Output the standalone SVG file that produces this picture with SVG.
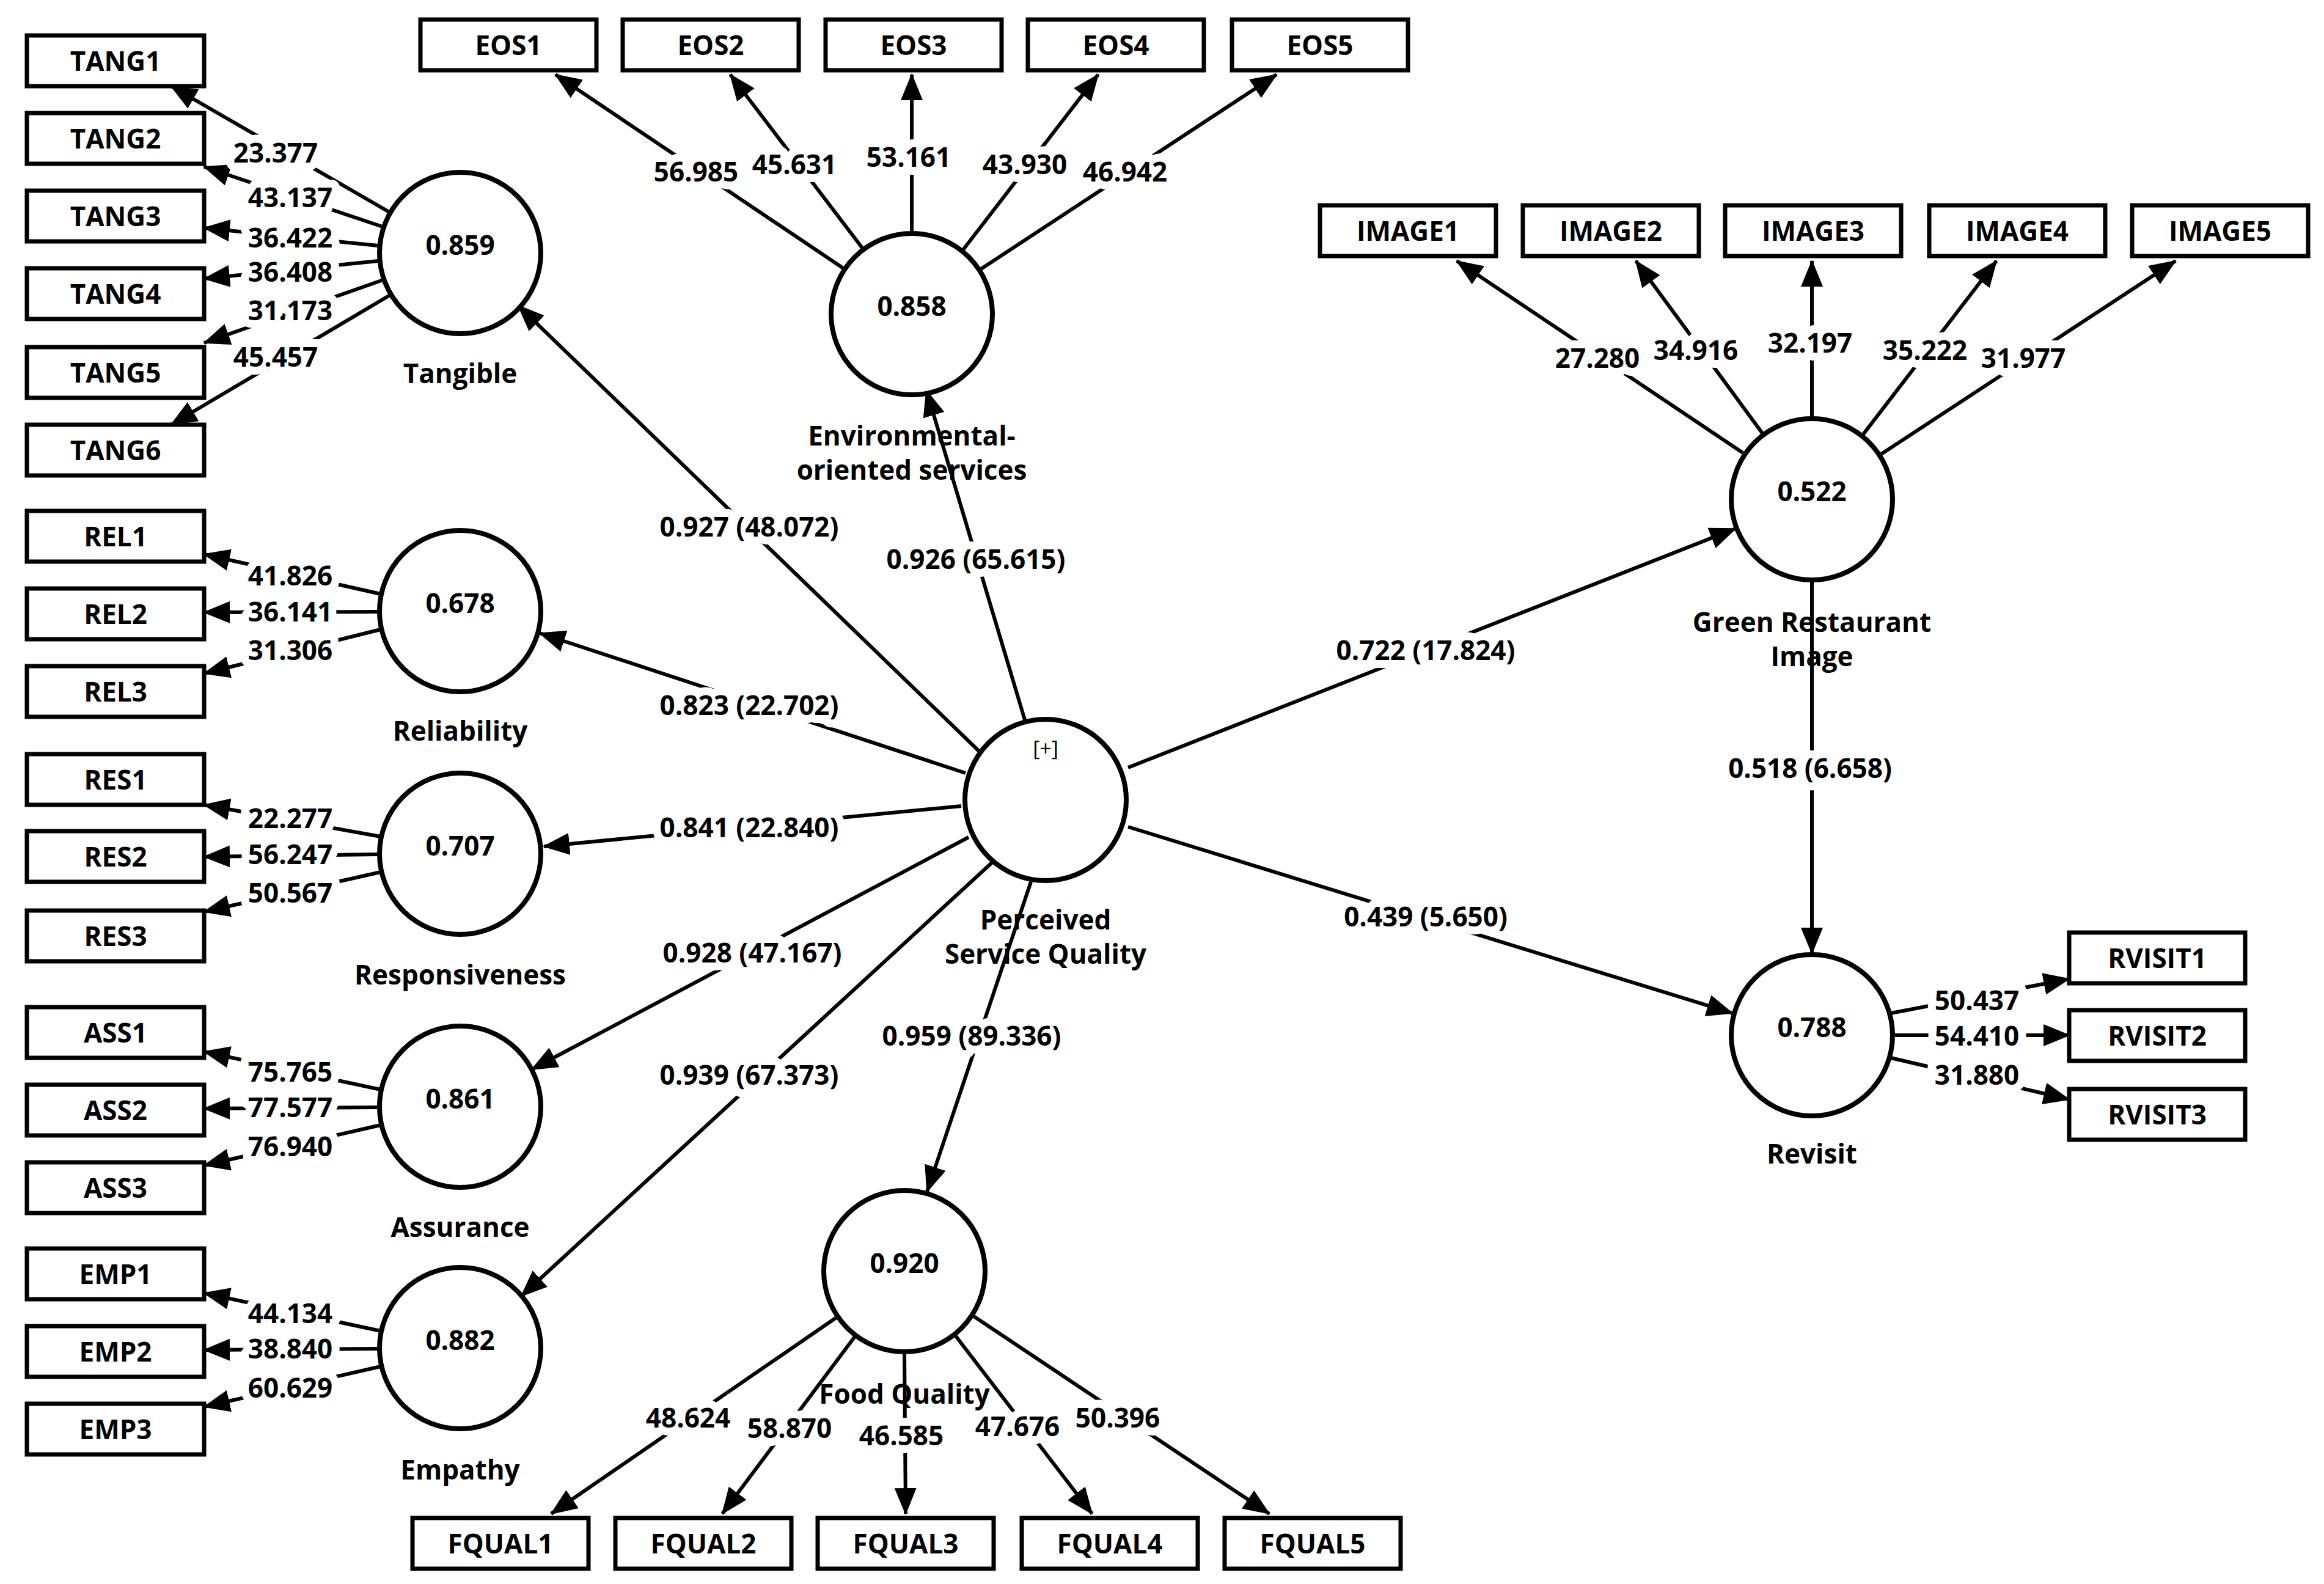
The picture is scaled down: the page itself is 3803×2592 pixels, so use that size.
<svg xmlns="http://www.w3.org/2000/svg" width="3803" height="2592" viewBox="0 0 3803 2592">
<style>
.b{fill:#fff;stroke:#000;stroke-width:7}
.c{fill:#fff;stroke:#000;stroke-width:8}
text{font-family:"Open Sans","DejaVu Sans",sans-serif;font-weight:700;font-size:44px;fill:#000;text-anchor:middle;dominant-baseline:central}
.l{stroke:#000;stroke-width:6;fill:none;marker-end:url(#a)}
.n{paint-order:stroke;stroke:#fff;stroke-width:26px;stroke-linejoin:round}
.p{font-weight:400;font-size:34px}
</style>
<defs><marker id="a" markerUnits="userSpaceOnUse" markerWidth="44" markerHeight="36" refX="42" refY="18" orient="auto"><path d="M0,0 L44,18 L0,36 Z" fill="#000"/></marker></defs>
<g id="connectors">
<path class="l" d="M637,347L280,141"/><path class="l" d="M626,371L334,273"/><path class="l" d="M619,402L334,373"/><path class="l" d="M619,427L334,456"/><path class="l" d="M627,458L334,561"/><path class="l" d="M638,483L280,695"/>
<path class="l" d="M623,972L334,907"/><path class="l" d="M619,1001L334,1002"/><path class="l" d="M623,1030L334,1102"/>
<path class="l" d="M623,1369L334,1317"/><path class="l" d="M619,1398L334,1402"/><path class="l" d="M623,1427L334,1492"/>
<path class="l" d="M623,1783L334,1721"/><path class="l" d="M619,1812L334,1814"/><path class="l" d="M623,1841L334,1907"/>
<path class="l" d="M623,2178L334,2116"/><path class="l" d="M619,2207L334,2209"/><path class="l" d="M623,2236L334,2302"/>
<path class="l" d="M1380,439L909,122"/><path class="l" d="M1412,407L1195,122"/><path class="l" d="M1492,380L1492,122"/><path class="l" d="M1575,410L1797,122"/><path class="l" d="M1604,441L2089,122"/>
<path class="l" d="M2852,741L2384,427"/><path class="l" d="M2884,709L2677,427"/><path class="l" d="M2965,683L2965,427"/><path class="l" d="M3048,712L3267,427"/><path class="l" d="M3077,744L3560,427"/>
<path class="l" d="M1370,2155L902,2477"/><path class="l" d="M1399,2187L1182,2477"/><path class="l" d="M1480,2214L1482,2477"/><path class="l" d="M1563,2185L1787,2477"/><path class="l" d="M1592,2153L2077,2477"/>
<path class="l" d="M3094,1658L3386,1602"/><path class="l" d="M3099,1694L3386,1694"/><path class="l" d="M3094,1731L3386,1799"/>
<path class="l" d="M1604,1231L848,500"/><path class="l" d="M1677,1178L1516,639"/><path class="l" d="M1580,1265L883,1036"/><path class="l" d="M1573,1319L890,1385"/><path class="l" d="M1585,1370L870,1750"/><path class="l" d="M1626,1409L853,2121"/><path class="l" d="M1687,1443L1517,1950"/><path class="l" d="M1846,1256L2840,865"/><path class="l" d="M1846,1353L2835,1658"/><path class="l" d="M2965,951L2965,1560"/>
</g>
<g id="labels">
<text class="n" x="451" y="249">23.377</text><text class="n" x="475" y="322">43.137</text><text class="n" x="475" y="388">36.422</text><text class="n" x="475" y="444">36.408</text><text class="n" x="475" y="507">31.173</text><text class="n" x="451" y="583">45.457</text>
<text class="n" x="475" y="941">41.826</text><text class="n" x="475" y="1000">36.141</text><text class="n" x="475" y="1063">31.306</text>
<text class="n" x="475" y="1338">22.277</text><text class="n" x="475" y="1397">56.247</text><text class="n" x="475" y="1460">50.567</text>
<text class="n" x="475" y="1753">75.765</text><text class="n" x="475" y="1811">77.577</text><text class="n" x="475" y="1875">76.940</text>
<text class="n" x="475" y="2148">44.134</text><text class="n" x="475" y="2206">38.840</text><text class="n" x="475" y="2270">60.629</text>
<text class="n" x="1139" y="280">56.985</text><text class="n" x="1300" y="268">45.631</text><text class="n" x="1487" y="256">53.161</text><text class="n" x="1677" y="268">43.930</text><text class="n" x="1841" y="280">46.942</text>
<text class="n" x="2614" y="585">27.280</text><text class="n" x="2775" y="572">34.916</text><text class="n" x="2962" y="560">32.197</text><text class="n" x="3150" y="572">35.222</text><text class="n" x="3311" y="585">31.977</text>
<text class="n" x="1126" y="2319">48.624</text><text class="n" x="1292" y="2336">58.870</text><text class="n" x="1475" y="2348">46.585</text><text class="n" x="1665" y="2333">47.676</text><text class="n" x="1829" y="2319">50.396</text>
<text class="n" x="3235" y="1636">50.437</text><text class="n" x="3235" y="1694">54.410</text><text class="n" x="3235" y="1758">31.880</text>
<text class="n" x="1226" y="861">0.927 (48.072)</text><text class="n" x="1597" y="914">0.926 (65.615)</text><text class="n" x="1226" y="1153">0.823 (22.702)</text><text class="n" x="1226" y="1353">0.841 (22.840)</text><text class="n" x="1231" y="1558">0.928 (47.167)</text><text class="n" x="1226" y="1758">0.939 (67.373)</text><text class="n" x="1590" y="1694">0.959 (89.336)</text><text class="n" x="2333" y="1063">0.722 (17.824)</text><text class="n" x="2333" y="1499">0.439 (5.650)</text><text class="n" x="2962" y="1256">0.518 (6.658)</text>
</g>
<g id="TANG1"><rect class="b" x="44" y="58" width="290" height="83"/><text x="189" y="99">TANG1</text></g>
<g id="TANG2"><rect class="b" x="44" y="185" width="290" height="83"/><text x="189" y="226">TANG2</text></g>
<g id="TANG3"><rect class="b" x="44" y="312" width="290" height="83"/><text x="189" y="353">TANG3</text></g>
<g id="TANG4"><rect class="b" x="44" y="439" width="290" height="83"/><text x="189" y="480">TANG4</text></g>
<g id="TANG5"><rect class="b" x="44" y="568" width="290" height="83"/><text x="189" y="609">TANG5</text></g>
<g id="TANG6"><rect class="b" x="44" y="695" width="290" height="83"/><text x="189" y="736">TANG6</text></g>
<g id="REL1"><rect class="b" x="44" y="836" width="290" height="83"/><text x="189" y="877">REL1</text></g>
<g id="REL2"><rect class="b" x="44" y="963" width="290" height="83"/><text x="189" y="1004">REL2</text></g>
<g id="REL3"><rect class="b" x="44" y="1090" width="290" height="83"/><text x="189" y="1131">REL3</text></g>
<g id="RES1"><rect class="b" x="44" y="1234" width="290" height="83"/><text x="189" y="1275">RES1</text></g>
<g id="RES2"><rect class="b" x="44" y="1360" width="290" height="83"/><text x="189" y="1401">RES2</text></g>
<g id="RES3"><rect class="b" x="44" y="1490" width="290" height="83"/><text x="189" y="1531">RES3</text></g>
<g id="ASS1"><rect class="b" x="44" y="1648" width="290" height="83"/><text x="189" y="1689">ASS1</text></g>
<g id="ASS2"><rect class="b" x="44" y="1775" width="290" height="83"/><text x="189" y="1816">ASS2</text></g>
<g id="ASS3"><rect class="b" x="44" y="1902" width="290" height="83"/><text x="189" y="1943">ASS3</text></g>
<g id="EMP1"><rect class="b" x="44" y="2043" width="290" height="83"/><text x="189" y="2084">EMP1</text></g>
<g id="EMP2"><rect class="b" x="44" y="2170" width="290" height="83"/><text x="189" y="2211">EMP2</text></g>
<g id="EMP3"><rect class="b" x="44" y="2297" width="290" height="83"/><text x="189" y="2338">EMP3</text></g>
<g id="EOS1"><rect class="b" x="688" y="32" width="288" height="83"/><text x="832" y="73">EOS1</text></g>
<g id="EOS2"><rect class="b" x="1019" y="32" width="288" height="83"/><text x="1163" y="73">EOS2</text></g>
<g id="EOS3"><rect class="b" x="1351" y="32" width="288" height="83"/><text x="1495" y="73">EOS3</text></g>
<g id="EOS4"><rect class="b" x="1682" y="32" width="288" height="83"/><text x="1826" y="73">EOS4</text></g>
<g id="EOS5"><rect class="b" x="2016" y="32" width="288" height="83"/><text x="2160" y="73">EOS5</text></g>
<g id="IMAGE1"><rect class="b" x="2160" y="336" width="288" height="83"/><text x="2304" y="377">IMAGE1</text></g>
<g id="IMAGE2"><rect class="b" x="2492" y="336" width="288" height="83"/><text x="2636" y="377">IMAGE2</text></g>
<g id="IMAGE3"><rect class="b" x="2823" y="336" width="288" height="83"/><text x="2967" y="377">IMAGE3</text></g>
<g id="IMAGE4"><rect class="b" x="3157" y="336" width="288" height="83"/><text x="3301" y="377">IMAGE4</text></g>
<g id="IMAGE5"><rect class="b" x="3489" y="336" width="288" height="83"/><text x="3633" y="377">IMAGE5</text></g>
<g id="FQUAL1"><rect class="b" x="675" y="2484" width="288" height="83"/><text x="819" y="2525">FQUAL1</text></g>
<g id="FQUAL2"><rect class="b" x="1007" y="2484" width="288" height="83"/><text x="1151" y="2525">FQUAL2</text></g>
<g id="FQUAL3"><rect class="b" x="1338" y="2484" width="288" height="83"/><text x="1482" y="2525">FQUAL3</text></g>
<g id="FQUAL4"><rect class="b" x="1672" y="2484" width="288" height="83"/><text x="1816" y="2525">FQUAL4</text></g>
<g id="FQUAL5"><rect class="b" x="2004" y="2484" width="288" height="83"/><text x="2148" y="2525">FQUAL5</text></g>
<g id="RVISIT1"><rect class="b" x="3386" y="1526" width="288" height="83"/><text x="3530" y="1567">RVISIT1</text></g>
<g id="RVISIT2"><rect class="b" x="3386" y="1653" width="288" height="83"/><text x="3530" y="1694">RVISIT2</text></g>
<g id="RVISIT3"><rect class="b" x="3386" y="1782" width="288" height="83"/><text x="3530" y="1823">RVISIT3</text></g>
<g id="Tangible"><circle class="c" cx="753" cy="414" r="132"/><text x="753" y="400">0.859</text><text x="753" y="610">Tangible</text></g>
<g id="Reliability"><circle class="c" cx="753" cy="1000" r="132"/><text x="753" y="986">0.678</text><text x="753" y="1195">Reliability</text></g>
<g id="Responsiveness"><circle class="c" cx="753" cy="1397" r="132"/><text x="753" y="1383">0.707</text><text x="753" y="1594">Responsiveness</text></g>
<g id="Assurance"><circle class="c" cx="753" cy="1811" r="132"/><text x="753" y="1797">0.861</text><text x="753" y="2007">Assurance</text></g>
<g id="Empathy"><circle class="c" cx="753" cy="2206" r="132"/><text x="753" y="2192">0.882</text><text x="753" y="2404">Empathy</text></g>
<g id="EOS"><circle class="c" cx="1492" cy="514" r="132"/><text x="1492" y="500">0.858</text><text x="1492" y="712">Environmental-</text><text x="1492" y="768">oriented services</text></g>
<g id="FoodQuality"><circle class="c" cx="1480" cy="2080" r="132"/><text x="1480" y="2066">0.920</text><text x="1480" y="2280">Food Quality</text></g>
<g id="PSQ"><circle class="c" cx="1711" cy="1309" r="132"/><text class="p" x="1711" y="1224">[+]</text><text x="1711" y="1504">Perceived</text><text x="1711" y="1560">Service Quality</text></g>
<g id="GRI"><circle class="c" cx="2965" cy="817" r="132"/><text x="2965" y="803">0.522</text><text x="2965" y="1017">Green Restaurant</text><text x="2965" y="1073">Image</text></g>
<g id="Revisit"><circle class="c" cx="2965" cy="1694" r="132"/><text x="2965" y="1680">0.788</text><text x="2965" y="1887">Revisit</text></g>
</svg>
